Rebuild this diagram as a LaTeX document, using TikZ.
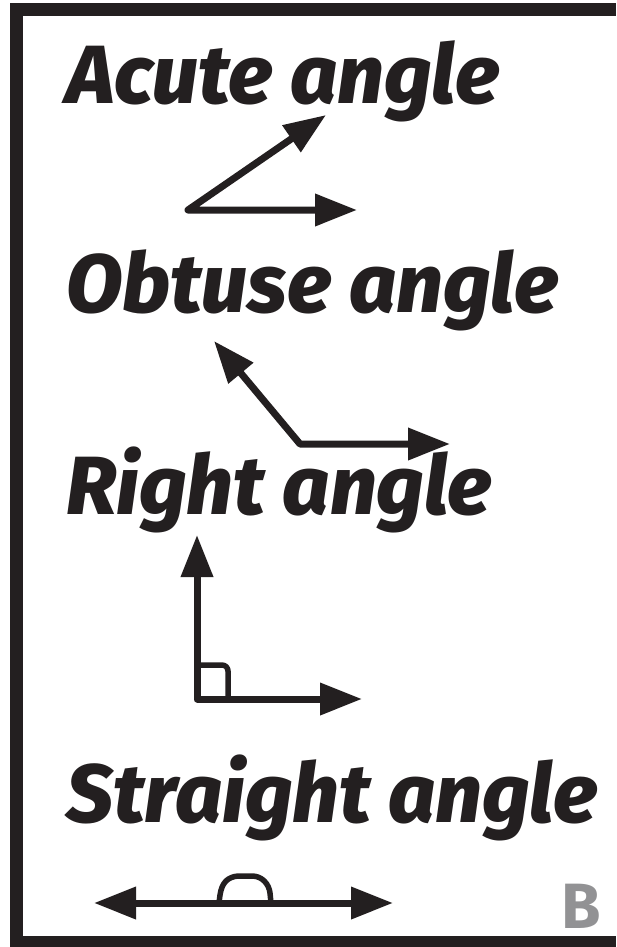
\documentclass[tikz,border=0pt]{standalone}
\usepackage{fontspec}
\setmainfont{Fira Sans}
\newfontfamily\titlefont{Fira Sans}[UprightFont=*-ExtraBold,ItalicFont=*-ExtraBold Italic]
\newfontfamily\bfont{Fira Sans}[UprightFont=*-Bold]
\usetikzlibrary{arrows.meta}
\definecolor{ink}{RGB}{35,31,32}
\definecolor{greyB}{RGB}{146,146,148}
\tikzset{
  title/.style={anchor=base west,inner sep=0pt,text=ink,font=\titlefont\itshape\fontsize{82.5}{82.5}\selectfont},
  dray/.style={draw=ink,line width=7pt,line join=round,
    arrows={Triangle[length=42pt,width=31pt,fill=ink]-Triangle[length=42pt,width=31pt,fill=ink]}},
  thin ink/.style={draw=ink,line width=5.5pt,line join=round}
}
\begin{document}
\begin{tikzpicture}[x=1pt,y=-1pt]
\useasboundingbox (0,0) rectangle (616,947);
% frame
\fill[ink] (10,3) rectangle (616,16);
\fill[ink] (10,3) rectangle (23,947);
\fill[ink] (10,936) rectangle (616,947);
% titles
\node[title] (t1) at (66,103) {Acute angle};
\node[title] (t2) at (66,312) {Obtuse angle};
\node[title] (t3) at (66,514) {Right angle};
\node[title] (t4) at (66,822) {Straight angle};
% acute
\coordinate (av) at (188,210);
\coordinate (a1) at (326,115);
\coordinate (a2) at (357,210);
\draw[dray] (a1) -- (av) -- (a2);
% obtuse
\coordinate (ov) at (300,444);
\coordinate (o1) at (214,341);
\coordinate (o2) at (450,444);
\draw[dray] (o1) -- (ov) -- (o2);
% right
\coordinate (rv) at (197,699);
\coordinate (r1) at (197,535);
\coordinate (r2) at (362,699);
\draw[dray] (r1) -- (rv) -- (r2);
\draw[thin ink] (197,665) -- (222,665) to[out=0,in=90] (228,671) -- (228,699);
% straight
\coordinate (s1) at (94,903);
\coordinate (s2) at (393,903);
\draw[dray] (s1) -- (s2);
\draw[thin ink] (219,903) -- (220,895) .. controls (222,882) and (228,877) .. (238,876) -- (252,876) .. controls (262,876) and (269,884) .. (270,893) -- (271,903);
% B
\node[anchor=base,inner sep=0pt,text=greyB,font=\bfont\fontsize{64}{64}\selectfont] (b) at (581,928) {B};
\end{tikzpicture}
\end{document}
